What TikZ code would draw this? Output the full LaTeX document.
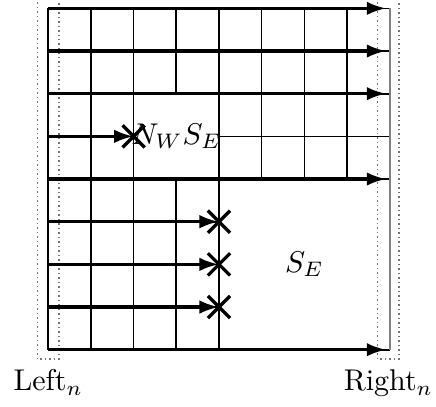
\documentclass[tikz,border=0pt]{standalone}
\usetikzlibrary{arrows.meta}
\begin{document}
\begin{tikzpicture}[
  gridline/.style={line width=0.55pt},
  flow/.style={line width=1.1pt,-{Latex[length=6.5pt,width=4.5pt]}},
  xmark/.style={line width=1.1pt},
  bracket/.style={black!55,densely dotted,line width=0.5pt},
]
\useasboundingbox (-0.566,-0.671) rectangle (4.543,4.098);
% named points
\foreach \y/\n in {0/a,0.5/b,1/c,1.5/d,2/e,2.5/f,3/g,3.5/h,4/i}{
  \coordinate (L\n) at (0,\y);
  \coordinate (M\n) at (1,\y);
  \coordinate (C\n) at (2,\y);
  \coordinate (R\n) at (4,\y);
  \coordinate (T\n) at (3.96,\y);
}
% thin grid
\foreach \x/\n in {0/p,0.5/q,1/r,2/s}{
  \coordinate (B\n) at (\x,0); \coordinate (U\n) at (\x,4);
  \draw[gridline] (B\n) -- (U\n);
}
\coordinate (B15) at (1.5,0); \coordinate (E15) at (1.5,2);
\coordinate (G15) at (1.5,3); \coordinate (U15) at (1.5,4);
\draw[gridline] (B15) -- (E15);
\draw[gridline] (G15) -- (U15);
\foreach \x/\n in {2.5/t,3/u,3.5/v}{
  \coordinate (E\n) at (\x,2); \coordinate (U\n) at (\x,4);
  \draw[gridline] (E\n) -- (U\n);
}
\foreach \n in {a,e,g,h,i} \draw[gridline] (L\n) -- (R\n);
\foreach \n in {b,c,d} \draw[gridline] (L\n) -- (C\n);
\draw[gridline] (Lf) -- (Mf);
\draw[gridline] (Cf) -- (Rf);
\draw[black!50,line width=0.6pt] (Ra) -- (Ri);
% dotted brackets
\coordinate (lb1) at (-0.125,-0.11); \coordinate (lb2) at (0.125,4.25);
\coordinate (rb1) at (3.86,-0.11); \coordinate (rb2) at (4.11,4.25);
\draw[bracket] (lb1) rectangle (lb2);
\draw[bracket] (rb1) rectangle (rb2);
% arrows
\foreach \n in {a,e,g,h,i} \draw[flow] (L\n) -- (T\n);
\foreach \n in {b,c,d} \draw[flow] (L\n) -- (C\n);
\draw[flow] (Lf) -- (Mf);
% crosses
\foreach \p in {Mf,Cb,Cc,Cd}{
  \draw[xmark] ([shift={(-0.13,-0.13)}]\p) -- ([shift={(0.13,0.13)}]\p);
  \draw[xmark] ([shift={(-0.13,0.13)}]\p) -- ([shift={(0.13,-0.13)}]\p);
}
% labels
\node (nwse) at (1.5,2.5) {$N_WS_E$};
\node (se) at (3,1) {$S_E$};
\node[below] (leftn) at (0,-0.11) {Left$_n$};
\node[below] (rightn) at (3.985,-0.11) {Right$_n$};
\end{tikzpicture}
\end{document}
